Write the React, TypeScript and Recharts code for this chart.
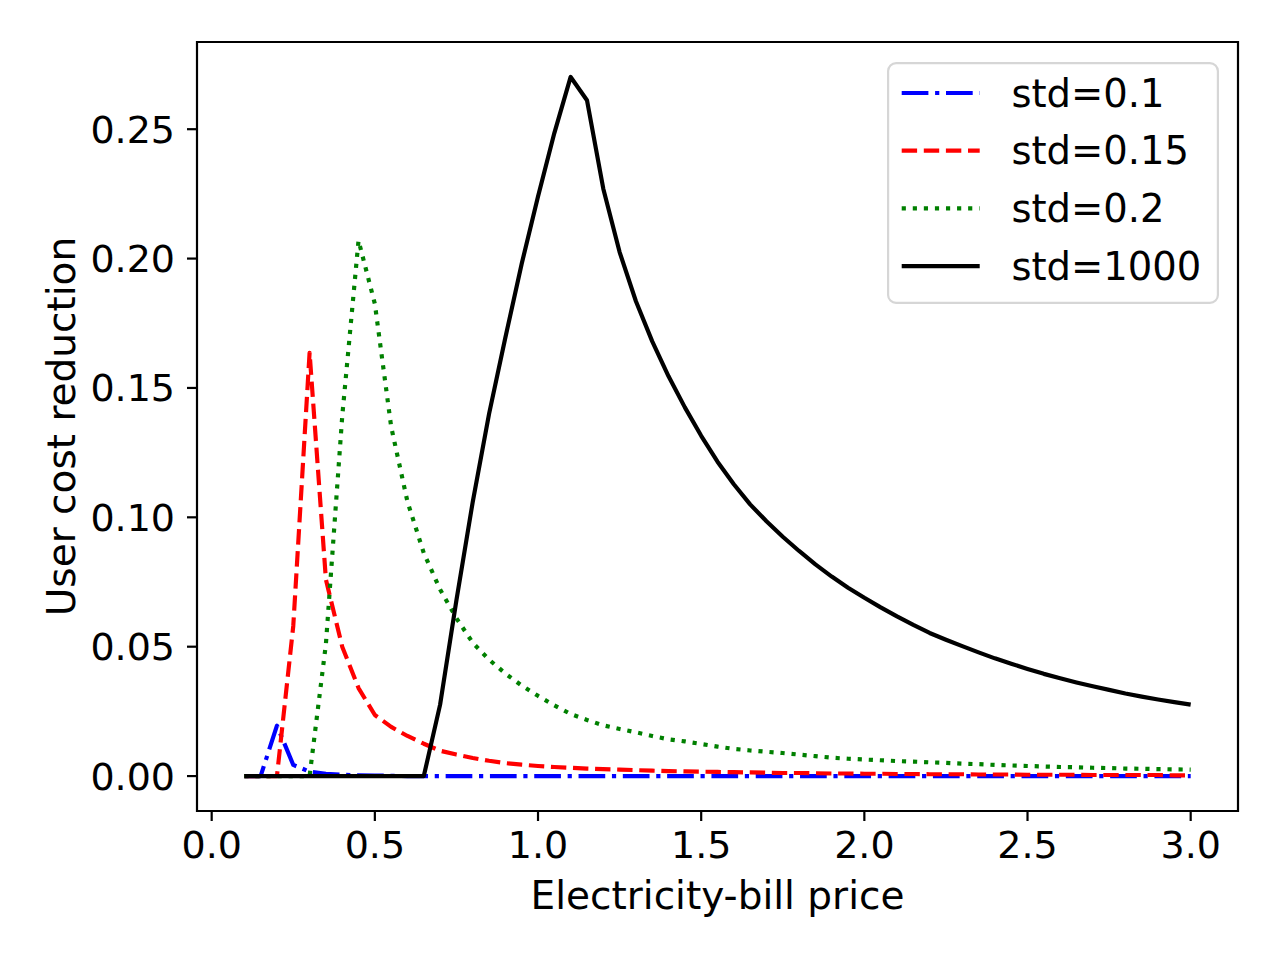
import { LineChart, Line, XAxis, YAxis, Legend, ReferenceArea } from 'recharts';

// electricity-bill price, one sample every 0.05
const prices = [
  0.1, 0.15, 0.2, 0.25, 0.3, 0.35, 0.4, 0.45, 0.5, 0.55,
  0.6, 0.65, 0.7, 0.75, 0.8, 0.85, 0.9, 0.95, 1.0, 1.05,
  1.1, 1.15, 1.2, 1.25, 1.3, 1.35, 1.4, 1.45, 1.5, 1.55,
  1.6, 1.65, 1.7, 1.75, 1.8, 1.85, 1.9, 1.95, 2.0, 2.05,
  2.1, 2.15, 2.2, 2.25, 2.3, 2.35, 2.4, 2.45, 2.5, 2.55,
  2.6, 2.65, 2.7, 2.75, 2.8, 2.85, 2.9, 2.95, 3.0,
];

const std01 = [
  0, 0, 0.0195, 0.0043, 0.0017, 0.0009, 0.0005, 0.0003, 0.0002, 0.0001,
  0, 0, 0, 0, 0, 0, 0, 0, 0, 0,
  0, 0, 0, 0, 0, 0, 0, 0, 0, 0,
  0, 0, 0, 0, 0, 0, 0, 0, 0, 0,
  0, 0, 0, 0, 0, 0, 0, 0, 0, 0,
  0, 0, 0, 0, 0, 0, 0, 0, 0,
];

const std015 = [
  0, 0, 0, 0.058, 0.1636, 0.076, 0.05, 0.034, 0.0236, 0.019,
  0.0155, 0.0125, 0.0098, 0.0083, 0.007, 0.0059, 0.005, 0.0044, 0.0039, 0.0035,
  0.0032, 0.0029, 0.0027, 0.0025, 0.0023, 0.0021, 0.0019, 0.0018, 0.0017, 0.0016,
  0.0015, 0.0014, 0.0013, 0.0012, 0.0012, 0.0011, 0.001, 0.001, 0.0009, 0.0009,
  0.0008, 0.0008, 0.0007, 0.0007, 0.0007, 0.0006, 0.0006, 0.0006, 0.0005, 0.0005,
  0.0005, 0.0005, 0.0004, 0.0004, 0.0004, 0.0004, 0.0004, 0.0003, 0.0003,
];

const std02 = [
  0, 0, 0, 0, 0, 0.051, 0.139, 0.207, 0.1825, 0.135,
  0.106, 0.0862, 0.0721, 0.061, 0.0515, 0.045, 0.0396, 0.035, 0.031, 0.0273,
  0.024, 0.0217, 0.0196, 0.0182, 0.0169, 0.0155, 0.0142, 0.0134, 0.0124, 0.0114,
  0.0105, 0.0099, 0.0094, 0.0089, 0.0083, 0.0077, 0.0071, 0.0067, 0.0064, 0.0061,
  0.0058, 0.0056, 0.0053, 0.0051, 0.0048, 0.0046, 0.0043, 0.0041, 0.0039, 0.0037,
  0.0035, 0.0034, 0.0032, 0.0031, 0.0029, 0.0028, 0.0027, 0.0026, 0.0025,
];

const std1000 = [
  0, 0, 0, 0, 0, 0, 0, 0, 0, 0,
  0, 0, 0.0276, 0.068, 0.106, 0.14, 0.1695, 0.198, 0.224, 0.2485,
  0.2702, 0.2612, 0.227, 0.2025, 0.1835, 0.168, 0.1545, 0.1425, 0.1315, 0.1215,
  0.1128, 0.105, 0.0985, 0.0925, 0.087, 0.0818, 0.0771, 0.0728, 0.0689, 0.0652,
  0.0617, 0.0584, 0.0553, 0.0527, 0.0502, 0.0478, 0.0455, 0.0434, 0.0414, 0.0395,
  0.0378, 0.0362, 0.0347, 0.0333, 0.0319, 0.0307, 0.0296, 0.0286, 0.0276,
];

const xTicks = [0, 0.5, 1.0, 1.5, 2.0, 2.5, 3.0];
const yTicks = [0, 0.05, 0.1, 0.15, 0.2, 0.25];

const X_DOMAIN: [number, number] = [-0.045, 3.145];
const Y_DOMAIN: [number, number] = [-0.0135, 0.2837];

const LW = 4.17;
const FONT = 'DejaVu Sans, sans-serif';

const series = [
  { key: 'std01', name: 'std=0.1', color: '#0000ff', dash: '26.7 6.7 4.2 6.7' },
  { key: 'std015', name: 'std=0.15', color: '#ff0000', dash: '15.4 6.7' },
  { key: 'std02', name: 'std=0.2', color: '#008000', dash: '4.17 6.9' },
  { key: 'std1000', name: 'std=1000', color: '#000000', dash: undefined },
];

const data = prices.map((p, i) => ({
  price: p,
  std01: std01[i],
  std015: std015[i],
  std02: std02[i],
  std1000: std1000[i],
}));

function LegendBox() {
  const w = 332;
  const h = 242;
  return (
    <svg width={w} height={h} style={{ display: 'block' }}>
      <rect x={1.1} y={1.1} width={w - 2.2} height={h - 2.2} rx={8} fill="#fff" stroke="#d6d6d6" strokeWidth={2.2} />
      {series.map((s, i) => {
        const cy = 31 + i * 57.7;
        return (
          <g key={s.key}>
            <line x1={14.7} x2={92.7} y1={cy} y2={cy} stroke={s.color} strokeWidth={LW} strokeDasharray={s.dash} />
            <text x={124.4} y={cy + 13.7} fontSize={38.5} fontFamily={FONT} fill="#000">
              {s.name}
            </text>
          </g>
        );
      })}
    </svg>
  );
}

export default function App() {
  return (
    <div style={{ position: 'absolute', left: 0, top: 0, width: 1280, height: 960, background: '#fff' }}>
      <LineChart width={1280} height={960} data={data} margin={{ top: 42, right: 42, bottom: 0, left: 0 }}>
        <XAxis
          dataKey="price"
          type="number"
          domain={X_DOMAIN}
          allowDataOverflow
          ticks={xTicks}
          tickFormatter={(v: number) => v.toFixed(1)}
          height={149}
          tickSize={10}
          tickMargin={10}
          axisLine={false}
          tickLine={{ stroke: '#000', strokeWidth: 2.2 }}
          tick={{ fill: '#000', fontSize: 38, fontFamily: FONT }}
          label={(props: any) => {
            const vb = props.viewBox;
            return (
              <text x={vb.x + vb.width / 2} y={vb.y + 98} textAnchor="middle" fontSize={39} fontFamily={FONT} fill="#000">
                Electricity-bill price
              </text>
            );
          }}
        />
        <YAxis
          type="number"
          domain={Y_DOMAIN}
          allowDataOverflow
          ticks={yTicks}
          tickFormatter={(v: number) => v.toFixed(2)}
          width={197}
          tickSize={10}
          tickMargin={12}
          axisLine={false}
          tickLine={{ stroke: '#000', strokeWidth: 2.2 }}
          tick={{ fill: '#000', fontSize: 38, fontFamily: FONT }}
          label={(props: any) => {
            const vb = props.viewBox;
            const x = vb.x + 75;
            const y = vb.y + vb.height / 2;
            return (
              <text x={x} y={y} transform={`rotate(-90 ${x} ${y})`} textAnchor="middle" fontSize={39} fontFamily={FONT} fill="#000">
                User cost reduction
              </text>
            );
          }}
        />
        {series.map((s) => (
          <Line
            key={s.key}
            type="linear"
            dataKey={s.key}
            name={s.name}
            stroke={s.color}
            strokeWidth={LW}
            strokeDasharray={s.dash}
            strokeLinejoin="round"
            dot={false}
            activeDot={false}
            isAnimationActive={false}
          />
        ))}
        <ReferenceArea
          x1={X_DOMAIN[0]}
          x2={X_DOMAIN[1]}
          y1={Y_DOMAIN[0]}
          y2={Y_DOMAIN[1]}
          fill="none"
          stroke="#000"
          strokeWidth={2.2}
          ifOverflow="visible"
        />
        <Legend
          layout="vertical"
          align="center"
          verticalAlign="middle"
          content={() => <LegendBox />}
          wrapperStyle={{ position: 'absolute', left: 887, top: 62, width: 332, height: 242 }}
        />
      </LineChart>
    </div>
  );
}
